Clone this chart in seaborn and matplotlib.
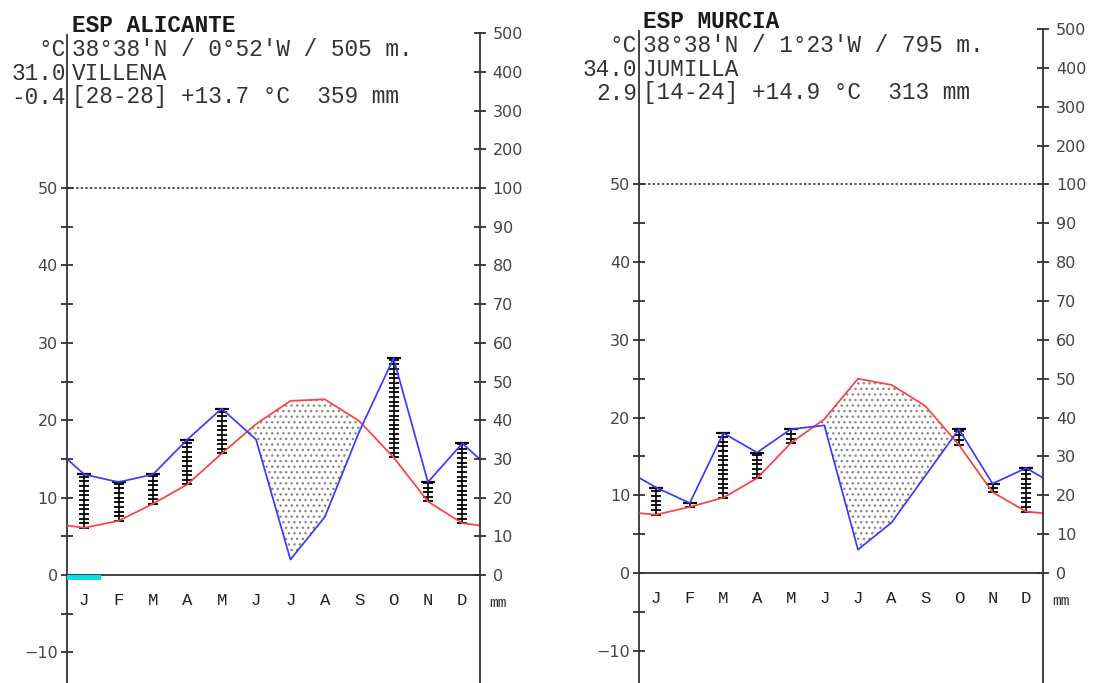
import matplotlib
matplotlib.use("Agg")
import matplotlib.pyplot as plt
import numpy as np
import pandas as pd
import seaborn as sns

W, H = 1095, 683

months = ["J", "F", "M", "A", "M", "J", "J", "A", "S", "O", "N", "D"]

# ESP ALICANTE - VILLENA
alicante_temp = [6.1, 7.0, 9.2, 11.7, 15.7, 19.5, 22.5, 22.7, 19.9, 15.2, 9.5, 6.7]
alicante_prec = [26, 24, 26, 35, 43, 35, 4, 15, 37, 56, 24, 34]
alicante_frost = [0]
alicante_head = ["ESP ALICANTE", "38°38'N / 0°52'W / 505 m.", "VILLENA",
                 "[28-28] +13.7 °C  359 mm"]
alicante_side = ["°C", "31.0", "-0.4"]

# ESP MURCIA - JUMILLA
murcia_temp = [7.5, 8.5, 9.7, 12.2, 16.7, 19.8, 25.0, 24.2, 21.5, 16.5, 10.4, 7.9]
murcia_prec = [22, 18, 36, 31, 37, 38, 6, 13, 25, 37, 23, 27]
murcia_frost = []
murcia_head = ["ESP MURCIA", "38°38'N / 1°23'W / 795 m.", "JUMILLA",
               "[14-24] +14.9 °C  313 mm"]
murcia_side = ["°C", "34.0", "2.9"]

RED = "#ff4040"
BLUE = "#3a3aff"
MONO = "Liberation Mono"


def prec_to_scale(p):
    # walter-lieth: 2 mm per degree up to 100 mm, then compressed 1/10
    p = np.asarray(p, dtype=float)
    return np.where(p <= 100, p / 2, 50 + (p - 100) / 20)


def fx(x):
    return x / W


def fy(y):
    return 1 - y / H


def climate_panel(fig, rect, ylim, temp, prec, frost, head, side, tx, ty):
    ax = fig.add_axes(rect)
    ax.patch.set_alpha(0)
    ymin, ymax = ylim

    t = np.array(temp)
    p = prec_to_scale(prec)
    xs = np.arange(12) + 0.5
    # wrap ends so lines reach both axes
    t_edge = (t[0] + t[-1]) / 2
    p_edge = (p[0] + p[-1]) / 2
    df = pd.DataFrame({
        "x": np.concatenate([[0], xs, [12]]),
        "temp": np.concatenate([[t_edge], t, [t_edge]]),
        "prec": np.concatenate([[p_edge], p, [p_edge]]),
    })

    # dry period dotted
    ax.fill_between(df["x"], df["prec"], df["temp"], where=df["temp"] > df["prec"],
                    interpolate=True, facecolor="none", edgecolor="#8a8a8a",
                    hatch="...", linewidth=0)

    # humid months ladder
    for x, tv, pv in zip(xs, t, p):
        if pv > tv:
            ax.vlines(x, tv, pv, color="black", lw=1.2, zorder=3)
            rungs = np.arange(tv, pv, 0.6)
            ax.plot(np.full(len(rungs), x), rungs, ls="none", marker="_",
                    ms=7, mew=1.3, color="black", zorder=3)
            ax.plot([x], [pv], ls="none", marker="_", ms=9.5, mew=1.6,
                    color="black", zorder=3)

    sns.lineplot(data=df, x="x", y="temp", ax=ax, color=RED, lw=1.25,
                 sort=False, zorder=4)
    sns.lineplot(data=df, x="x", y="prec", ax=ax, color=BLUE, lw=1.25,
                 sort=False, zorder=5)

    ax.plot([0, 12], [50, 50], color="#222222", ls=(0, (1.5, 1.5)), lw=1.1)

    for m in frost:
        ax.fill_between([m, m + 1], -0.65, 0, color="#00e0e8", lw=0, zorder=6)

    ax.set_xlim(0, 12)
    ax.set_ylim(ymin, ymax)
    ax.set_xlabel("")
    ax.set_ylabel("")

    for s in ["top", "right"]:
        ax.spines[s].set_visible(False)
    ax.spines["bottom"].set_position(("data", 0))
    ax.spines["left"].set_bounds(ymin, 69.8)
    for s in ["left", "bottom"]:
        ax.spines[s].set_color("#333333")
        ax.spines[s].set_linewidth(1.3)

    ax.set_xticks(range(13))
    ax.set_xticklabels([])
    ax.set_xticks(xs, minor=True)
    ax.set_xticklabels(months, minor=True, family=MONO, fontsize=12.5,
                       color="#222222")
    ax.tick_params(axis="x", which="major", direction="inout", length=11,
                   width=1.3, color="#333333")
    ax.tick_params(axis="x", which="minor", length=0, pad=13)

    ax.set_yticks(range(-10, 51, 10))
    ax.set_yticks(range(-5, 50, 10), minor=True)
    ax.tick_params(axis="y", which="both", direction="inout", length=9,
                   width=1.3, color="#333333", labelsize=11.5,
                   labelcolor="#444444", pad=2)

    ax2 = ax.twinx()
    ax2.set_ylim(ymin, ymax)
    for s in ["top", "left", "bottom"]:
        ax2.spines[s].set_visible(False)
    ax2.spines["right"].set_bounds(ymin, 70)
    ax2.spines["right"].set_color("#333333")
    ax2.spines["right"].set_linewidth(1.3)
    mm_ticks = list(range(0, 101, 10)) + [200, 300, 400, 500]
    ax2.set_yticks(prec_to_scale(mm_ticks))
    ax2.set_yticklabels([str(v) for v in mm_ticks])
    ax2.tick_params(axis="y", direction="inout", length=9, width=1.3,
                    color="#333333", labelsize=11.5, labelcolor="#444444",
                    pad=5)

    # header text
    fig.text(fx(tx), fy(ty[0]), head[0], family=MONO, fontsize=16.4,
             weight="bold", va="center", ha="left", color="#1a1a1a")
    for line, y in zip(head[1:], ty[1:]):
        fig.text(fx(tx), fy(y), line, family=MONO, fontsize=16.4,
                 va="center", ha="left", color="#333333")
    for line, y in zip(side, ty[1:]):
        fig.text(fx(tx - 6), fy(y), line, family=MONO, fontsize=16.4,
                 va="center", ha="right", color="#333333")
    return ax


sns.set_style("white")
plt.rcParams["font.family"] = ["DejaVu Sans"]

fig = plt.figure(figsize=(W / 100, H / 100), dpi=100)

# left panel: axis x 67..479.5 px, 0 degC at 575 px, 7.74 px/degC
climate_panel(fig, [fx(67), 0, (479.5 - 67) / W, (683 - 29.3) / H],
              (-13.95, 70.5), alicante_temp, alicante_prec, alicante_frost,
              alicante_head, alicante_side, 72, [26, 50, 74, 97])
fig.text(fx(489), fy(603), "mm", family=MONO, fontsize=10.5, va="center",
         color="#333333")

# right panel: axis x 639.3..1043 px, 0 degC at 573 px, 7.77 px/degC
climate_panel(fig, [fx(639.3), 0, (1043 - 639.3) / W, (683 - 25.2) / H],
              (-14.16, 70.5), murcia_temp, murcia_prec, murcia_frost,
              murcia_head, murcia_side, 643, [21, 46, 69, 93])
fig.text(fx(1052), fy(601), "mm", family=MONO, fontsize=10.5, va="center",
         color="#333333")

fig.savefig("out.png", dpi=100)
